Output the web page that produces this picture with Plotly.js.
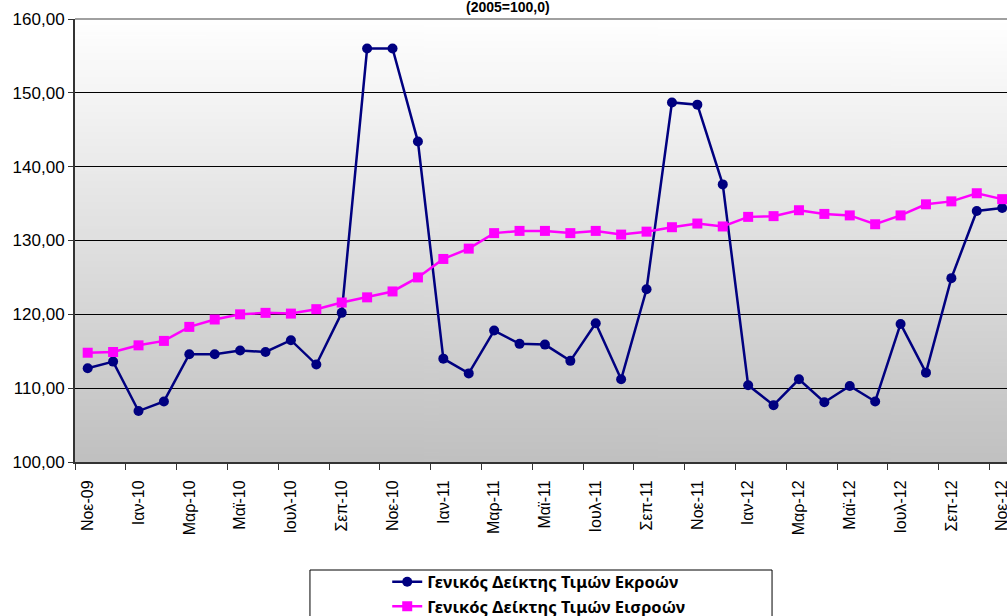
<!DOCTYPE html>
<html>
<head>
<meta charset="utf-8">
<script src="https://cdn.plot.ly/plotly-3.0.1.min.js"></script>
<style>
html,body{margin:0;padding:0;background:#fff;overflow:hidden;}
#chart{width:1007px;height:616px;}
</style>
</head>
<body>
<div id="chart"></div>
<script>
// Categories (months, Nov 2009 – Nov 2012)
var categories = [
  "Νοε-09","Δεκ-09",
  "Ιαν-10","Φεβ-10","Μαρ-10","Απρ-10","Μαϊ-10","Ιουν-10","Ιουλ-10","Αυγ-10","Σεπ-10","Οκτ-10","Νοε-10","Δεκ-10",
  "Ιαν-11","Φεβ-11","Μαρ-11","Απρ-11","Μαϊ-11","Ιουν-11","Ιουλ-11","Αυγ-11","Σεπ-11","Οκτ-11","Νοε-11","Δεκ-11",
  "Ιαν-12","Φεβ-12","Μαρ-12","Απρ-12","Μαϊ-12","Ιουν-12","Ιουλ-12","Αυγ-12","Σεπ-12","Οκτ-12","Νοε-12"
];

// Γενικός Δείκτης Τιμών Εκροών (output price index)
var outputIndex = [
  112.7, 113.6,
  106.9, 108.2, 114.6, 114.6, 115.1, 114.9, 116.5, 113.2, 120.2, 156.0, 156.0, 143.4,
  114.0, 112.0, 117.8, 116.0, 115.9, 113.7, 118.8, 111.2, 123.4, 148.7, 148.4, 137.6,
  110.4, 107.7, 111.2, 108.1, 110.3, 108.2, 118.7, 112.1, 124.9, 134.0, 134.4
];

// Γενικός Δείκτης Τιμών Εισροών (input price index)
var inputIndex = [
  114.8, 114.9,
  115.8, 116.4, 118.3, 119.3, 120.0, 120.2, 120.1, 120.7, 121.6, 122.3, 123.1, 125.0,
  127.5, 128.9, 131.0, 131.3, 131.3, 131.0, 131.3, 130.8, 131.2, 131.8, 132.3, 131.9,
  133.2, 133.3, 134.1, 133.6, 133.4, 132.2, 133.4, 134.9, 135.3, 136.4, 135.6
];

var seriesNames = ["Γενικός Δείκτης Τιμών Εκροών", "Γενικός Δείκτης Τιμών Εισροών"];
var yTicks = [100, 110, 120, 130, 140, 150, 160];
var chartTitle = "(2005=100,0)";

var FONT = '"Liberation Sans", Arial, sans-serif';
var LEGEND_FONT = '"Noto Sans", "DejaVu Sans", sans-serif';

// gradient background for the plot area
var cv = document.createElement('canvas');
cv.width = 4; cv.height = 256;
var ctx = cv.getContext('2d');
var g = ctx.createLinearGradient(0, 0, 0, 256);
g.addColorStop(0, '#ffffff');
g.addColorStop(1, '#c0c0c0');
ctx.fillStyle = g;
ctx.fillRect(0, 0, 4, 256);
var bgUrl = cv.toDataURL('image/png');

var traces = [
  {
    type: 'scatter', mode: 'lines+markers',
    x: categories, y: outputIndex, name: '<b>' + seriesNames[0] + '</b>',
    line: {color: '#000080', width: 2.5},
    marker: {color: '#000080', symbol: 'circle', size: 10},
    cliponaxis: false
  },
  {
    type: 'scatter', mode: 'lines+markers',
    x: categories, y: inputIndex, name: '<b>' + seriesNames[1] + '</b>',
    line: {color: '#ff00ff', width: 2.5},
    marker: {color: '#ff00ff', symbol: 'square', size: 10},
    cliponaxis: false
  }
];

var layout = {
  width: 1007, height: 616,
  margin: {l: 75, r: 0, t: 19, b: 154, pad: 0, autoexpand: false},
  paper_bgcolor: '#ffffff',
  plot_bgcolor: 'rgba(0,0,0,0)',
  separators: ',.',
  font: {family: FONT, color: '#000'},
  showlegend: true,
  xaxis: {
    type: 'category',
    categoryorder: 'array', categoryarray: categories,
    range: [-0.5, 36.19],
    tickmode: 'linear', tick0: 0, dtick: 2,
    tickson: 'boundaries',
    ticks: 'outside', ticklen: 6, tickcolor: '#333', tickwidth: 1,
    tickangle: -90,
    ticklabelstandoff: 10,
    tickfont: {size: 16, family: FONT},
    showgrid: false,
    showline: true, linecolor: '#333', linewidth: 2,
    zeroline: false,
    automargin: false
  },
  yaxis: {
    range: [100, 160],
    tickmode: 'array', tickvals: yTicks,
    tickformat: '.2f',
    ticks: 'outside', ticklen: 5, tickcolor: '#333', tickwidth: 1,
    tickfont: {size: 17, family: FONT},
    showgrid: true, gridcolor: '#000', gridwidth: 1,
    showline: true, linecolor: '#333', linewidth: 2,
    zeroline: false,
    automargin: false
  },
  legend: {
    orientation: 'v',
    x: 0.335, xanchor: 'left',
    yref: 'container',
    y: 0.0835, yanchor: 'top',
    bgcolor: 'rgba(0,0,0,0)',
    borderwidth: 0,
    font: {size: 16.5, family: LEGEND_FONT, weight: 'bold'},
    tracegroupgap: 0
  },
  images: [{
    source: bgUrl, xref: 'paper', yref: 'paper',
    x: 0, y: 1, sizex: 1, sizey: 1, sizing: 'stretch',
    xanchor: 'left', yanchor: 'top', layer: 'below'
  }],
  shapes: [
    {type: 'line', xref: 'paper', yref: 'paper', x0: 0, x1: 1, y0: 1, y1: 1,
     line: {color: '#a0a0a0', width: 2}},
    {type: 'rect', xref: 'paper', yref: 'paper',
     x0: 0.2521, x1: 0.7479, y0: -0.2438, y1: -0.36,
     line: {color: '#000', width: 1}, fillcolor: 'rgba(0,0,0,0)'}
  ],
  annotations: [{
    text: '<b>' + chartTitle + '</b>',
    xref: 'paper', yref: 'paper', x: 0.4646, y: 1.004,
    xanchor: 'center', yanchor: 'bottom', showarrow: false,
    font: {size: 14, family: FONT}
  }]
};

Plotly.newPlot('chart', traces, layout, {displayModeBar: false, staticPlot: true});
</script>
</body>
</html>
